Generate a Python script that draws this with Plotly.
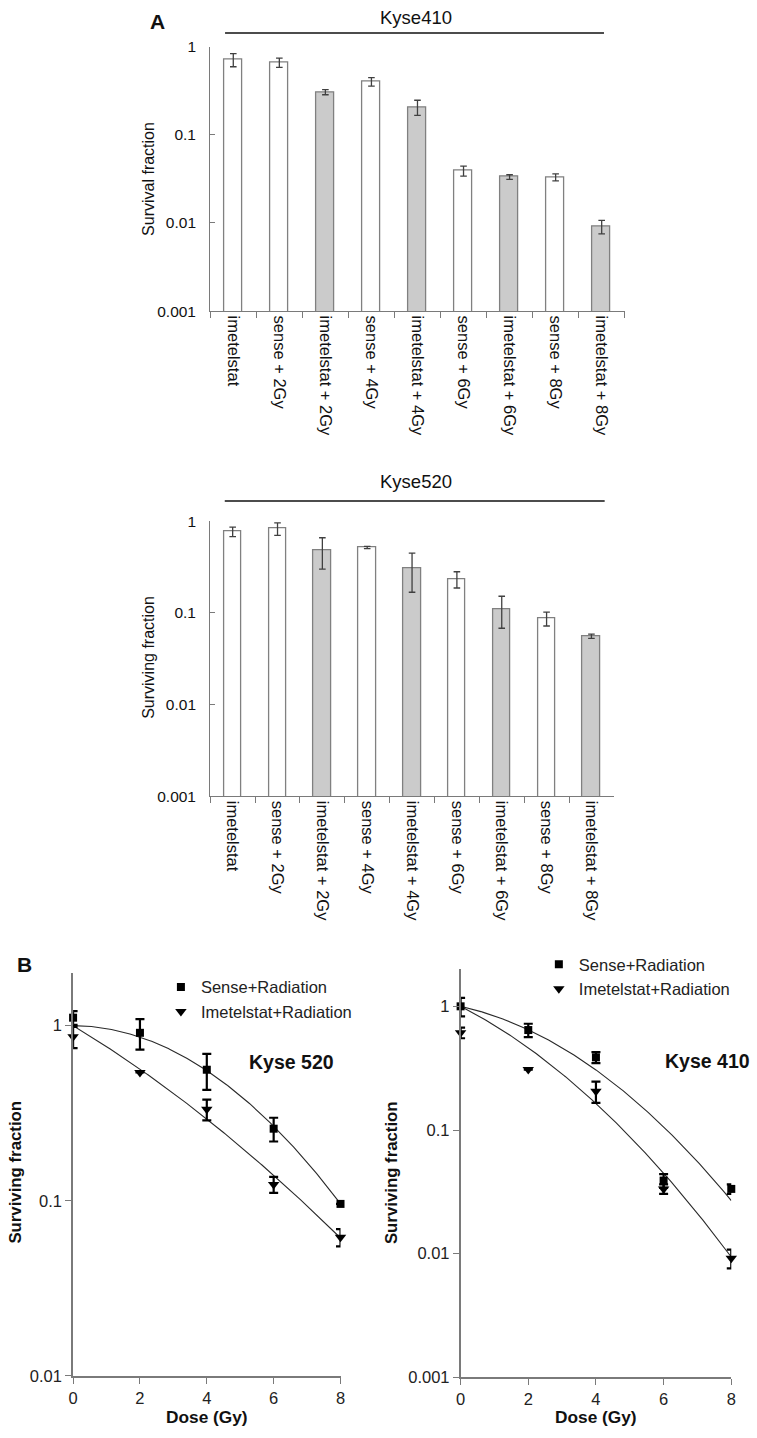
import numpy as np
import plotly.graph_objects as go

W, H = 757, 1438

# ---------------- data ----------------
categories = ["imetelstat", "sense + 2Gy", "imetelstat + 2Gy", "sense + 4Gy", "imetelstat + 4Gy",
              "sense + 6Gy", "imetelstat + 6Gy", "sense + 8Gy", "imetelstat + 8Gy"]
combined_with_imetelstat = [False, False, True, False, True, False, True, False, True]

kyse410_bar = [0.71, 0.66, 0.304, 0.40, 0.206, 0.039, 0.0332, 0.033, 0.0091]
kyse410_bar_err = [0.12, 0.08, 0.02, 0.045, 0.04, 0.005, 0.002, 0.003, 0.0016]
kyse520_bar = [0.77, 0.83, 0.48, 0.517, 0.308, 0.234, 0.11, 0.087, 0.0557]
kyse520_bar_err = [0.09, 0.13, 0.18, 0.015, 0.14, 0.047, 0.042, 0.015, 0.003]

dose = [0, 2, 4, 6, 8]
k520_sense = [1.11, 0.91, 0.56, 0.258, 0.096]
k520_sense_err = [0.10, 0.18, 0.13, 0.04, 0.0]
k520_imet = [0.865, 0.54, 0.333, 0.124, 0.062]
k520_imet_err = [0.12, 0.0, 0.045, 0.013, 0.007]

k410_sense = [1.0, 0.643, 0.387, 0.039, 0.0334]
k410_sense_err = [0.17, 0.08, 0.04, 0.005, 0.003]
k410_imet = [0.612, 0.308, 0.206, 0.0334, 0.0092]
k410_imet_err = [0.06, 0.0, 0.04, 0.003, 0.0016]

# linear-quadratic fit parameters (S = exp(-a*D - b*D^2))
k520_sense_fit = (0.0025, 0.0363)
k520_imet_fit = (0.265, 0.0105)
k410_sense_fit = (0.14, 0.039)
k410_imet_fit = (0.321, 0.0328)

bar_log_ticks = [0.001, 0.01, 0.1, 1]
bar_log_ticktext = ["0.001", "0.01", "0.1", "1"]

# ---------------- helpers ----------------
FONT = "Liberation Sans, Arial, sans-serif"
AX_GRAY = "#7a7a7a"

def px_x(p):
    return p / W

def px_y(p):
    return 1 - p / H

fig = go.Figure()

fills = ["#cbcbcb" if c else "#ffffff" for c in combined_with_imetelstat]

def add_bars(vals, errs, xa, ya):
    fig.add_trace(go.Bar(
        x=categories, y=vals, xaxis=xa, yaxis=ya, width=0.39,
        marker=dict(color=fills, line=dict(color="#808080", width=1.3)),
        error_y=dict(type="data", array=errs, color="#404040", thickness=1.3, width=3.3),
        showlegend=False))

add_bars(kyse410_bar, kyse410_bar_err, "x", "y")
add_bars(kyse520_bar, kyse520_bar_err, "x2", "y2")

curve_d = np.linspace(0, 8, 161)

def add_survival(sense, sense_err, imet, imet_err, sfit, ifit, xa, ya, leg):
    for (a, b) in (sfit, ifit):
        fig.add_trace(go.Scatter(
            x=curve_d, y=np.exp(-a * curve_d - b * curve_d ** 2), xaxis=xa, yaxis=ya,
            mode="lines", line=dict(color="#2a2a2a", width=1.1), showlegend=False,
            cliponaxis=False, hoverinfo="skip"))
    fig.add_trace(go.Scatter(
        x=dose, y=sense, xaxis=xa, yaxis=ya, mode="markers", name="Sense+Radiation",
        marker=dict(symbol="square", size=8, color="black"),
        error_y=dict(type="data", array=sense_err, color="black", thickness=2.2, width=4.5),
        cliponaxis=False, legend=leg))
    fig.add_trace(go.Scatter(
        x=dose, y=imet, xaxis=xa, yaxis=ya, mode="markers", name="Imetelstat+Radiation",
        marker=dict(symbol="triangle-down", size=10, color="black"),
        error_y=dict(type="data", array=imet_err, color="black", thickness=2.2, width=4.5),
        cliponaxis=False, legend=leg))

add_survival(k520_sense, k520_sense_err, k520_imet, k520_imet_err,
             k520_sense_fit, k520_imet_fit, "x3", "y3", "legend")
add_survival(k410_sense, k410_sense_err, k410_imet, k410_imet_err,
             k410_sense_fit, k410_imet_fit, "x4", "y4", "legend2")

# ---------------- axes ----------------
cat_x = dict(type="category", tickson="boundaries", ticks="outside", ticklen=6,
             tickcolor=AX_GRAY, showline=True, linecolor=AX_GRAY, linewidth=1.3,
             tickangle=90, tickfont=dict(size=16.5, color="#111"), showgrid=False,
             fixedrange=True)
bar_y = dict(type="log", range=[-3, 0], tickvals=bar_log_ticks, ticktext=bar_log_ticktext,
             ticks="inside", ticklen=5, tickcolor=AX_GRAY, showline=True, linecolor=AX_GRAY,
             linewidth=1.3, showgrid=False, zeroline=False, ticklabelstandoff=10,
             tickfont=dict(size=15.5, color="#111"))

dose_x = dict(range=[0, 8], tickvals=dose, ticks="outside", ticklen=6, tickcolor=AX_GRAY,
              tickwidth=1.3, showline=True, linecolor=AX_GRAY, linewidth=1.6, showgrid=False,
              zeroline=False, tickfont=dict(size=16.5, color="#222"))
surv_y = dict(type="log", ticks="outside", ticklen=6, tickcolor=AX_GRAY, tickwidth=1.3,
              showline=True, linecolor=AX_GRAY, linewidth=1.6, showgrid=False, zeroline=False,
              tickfont=dict(size=16.5, color="#222"))

fig.update_layout(
    xaxis=dict(cat_x, domain=[px_x(208), px_x(628)], anchor="y"),
    yaxis=dict(bar_y, domain=[px_y(306), px_y(38)], anchor="x"),
    xaxis2=dict(cat_x, domain=[px_x(208), px_x(617)], anchor="y2"),
    yaxis2=dict(bar_y, domain=[px_y(797.3), px_y(518.7)], anchor="x2"),
    xaxis3=dict(dose_x, domain=[px_x(69), px_x(340)], anchor="y3"),
    yaxis3=dict(surv_y, range=[-2, 0.3], tickvals=[0.01, 0.1, 1], ticktext=["0.01", "0.1", "1"],
                domain=[px_y(1384.3), px_y(976.3)], anchor="x3"),
    xaxis4=dict(dose_x, domain=[px_x(461.7), px_x(736)], anchor="y4"),
    yaxis4=dict(surv_y, range=[-3, 0.3], tickvals=[0.001, 0.01, 0.1, 1],
                ticktext=["0.001", "0.01", "0.1", "1"],
                domain=[px_y(1385.7), px_y(972.4)], anchor="x4"),
)

legend_common = dict(xanchor="left", yanchor="top", bgcolor="rgba(0,0,0,0)", borderwidth=0,
                     font=dict(size=16.5, color="#222", family=FONT), itemwidth=30,
                     tracegroupgap=0)
fig.update_layout(
    legend=dict(legend_common, x=px_x(158), y=px_y(973)),
    legend2=dict(legend_common, x=px_x(541), y=px_y(950)),
)

# ---------------- titles / labels ----------------
def ann(text, x, y, size, bold=False, angle=0):
    fig.add_annotation(text=f"<b>{text}</b>" if bold else text, x=px_x(x), y=px_y(y),
                       xref="paper", yref="paper", xanchor="center", yanchor="middle",
                       showarrow=False, textangle=angle,
                       font=dict(size=size, color="#111", family=FONT))

ann("A", 155, 13, 21, bold=True)
ann("Kyse410", 416.7, 9, 18.5)
ann("Kyse520", 416.7, 478, 18.5)
ann("Survival fraction", 146, 172, 16, angle=-90)
ann("Surviving fraction", 146, 657, 16, angle=-90)
ann("B", 20, 968, 21, bold=True)
ann("Kyse 520", 290.8, 1066.7, 19.5, bold=True)
ann("Kyse 410", 711.5, 1065, 19.5, bold=True)
ann("Surviving fraction", 10.5, 1178, 16.8, bold=True, angle=-90)
ann("Surviving fraction", 391, 1178, 16.8, bold=True, angle=-90)
ann("Dose (Gy)", 204.5, 1426, 17.3, bold=True)
ann("Dose (Gy)", 599, 1426, 17.3, bold=True)

for (x0, x1, y) in ((223, 607, 24.3), (222.7, 607.7, 498.3)):
    fig.add_shape(type="line", xref="paper", yref="paper", x0=px_x(x0), x1=px_x(x1),
                  y0=px_y(y), y1=px_y(y), line=dict(color="#111", width=1.4))

fig.update_layout(
    width=W, height=H, margin=dict(l=0, r=0, t=0, b=0),
    paper_bgcolor="white", plot_bgcolor="white",
    font=dict(family=FONT, color="#111"),
    bargap=0.0,
)

fig.write_html("out.html", config={"displayModeBar": False},
               post_script="document.body.style.margin='0';")
